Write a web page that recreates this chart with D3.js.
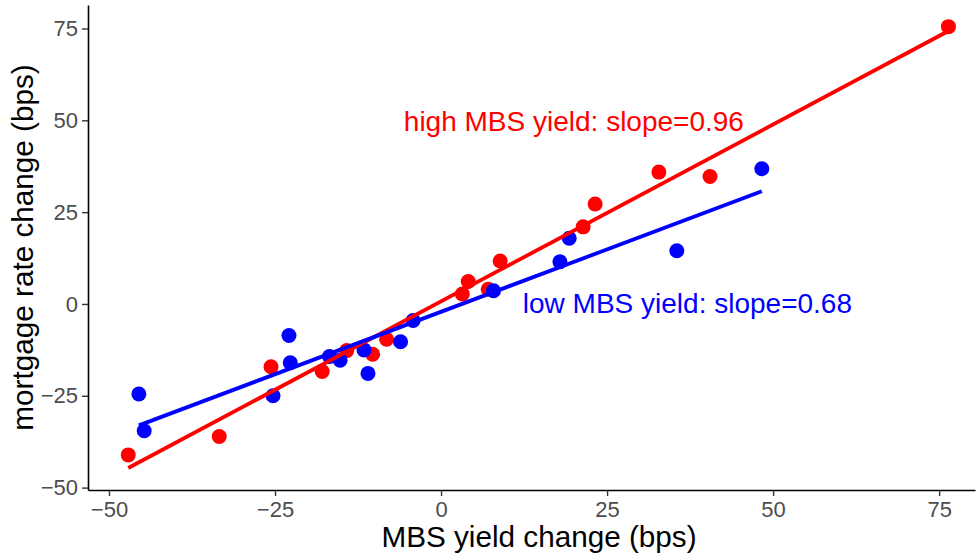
<!DOCTYPE html>
<html>
<head>
<meta charset="utf-8">
<script src="https://cdn.jsdelivr.net/npm/d3@7"></script>
<style>
  body { margin: 0; background: #fff; }
  svg { display: block; font-family: "Liberation Sans", Arial, sans-serif; }
</style>
</head>
<body>
<div id="chart"></div>
<script>
// high MBS yield group
const highX = [-47.1, -33.4, -25.6, -17.9, -14.2, -10.3, -8.2, 3.2, 4.1, 7.1, 8.9, 21.4, 23.2, 32.8, 40.5, 76.4];
const highY = [-41.1, -36.1, -17.1, -18.4, -12.7, -13.7, -9.6, 2.7, 6.1, 4.0, 11.7, 21.0, 27.2, 35.9, 34.7, 75.5];
// low MBS yield group
const lowX = [-45.5, -44.7, -25.3, -22.9, -22.7, -16.8, -15.2, -11.6, -11.0, -6.1, -4.2, 7.9, 17.9, 19.3, 35.5, 48.3];
const lowY = [-24.5, -34.5, -25.0, -8.6, -16.0, -14.3, -15.3, -12.5, -18.9, -10.3, -4.5, 3.6, 11.5, 17.9, 14.5, 36.8];

const xTicks = [-50, -25, 0, 25, 50, 75];
const yTicks = [-50, -25, 0, 25, 50, 75];

const labels = {
  x: "MBS yield change (bps)",
  y: "mortgage rate change (bps)",
  high: "high MBS yield: slope=0.96",
  low: "low MBS yield: slope=0.68"
};

const W = 980, H = 558;
const margin = { t: 5, r: 5, b: 68, l: 88 };

const svg = d3.select("#chart").append("svg")
  .attr("width", W)
  .attr("height", H)
  .attr("viewBox", [0, 0, W, H]);

const scaleX = d3.scaleLinear()
  .domain([-53.16, 80.4])
  .range([margin.l, W - margin.r]);

const scaleY = d3.scaleLinear()
  .domain([-50.65, 81.4])
  .range([H - margin.b, margin.t]);

// least squares fit, like geom_smooth(method = "lm")
const fit = (xs, ys) => {
  const mx = d3.mean(xs), my = d3.mean(ys);
  const sxy = d3.sum(xs, (x, i) => (x - mx) * (ys[i] - my));
  const sxx = d3.sum(xs, (x) => (x - mx) * (x - mx));
  const b = sxy / sxx;
  const a = my - b * mx;
  const ext = d3.extent(xs);
  return ext.map((x) => [x, a + b * x]);
};

// axes
const ax = svg.append("g")
  .attr("transform", `translate(0, ${H - margin.b})`)
  .call(d3.axisBottom(scaleX).tickValues(xTicks).tickSize(6).tickPadding(4).tickSizeOuter(0));

const ay = svg.append("g")
  .attr("transform", `translate(${margin.l}, 0)`)
  .call(d3.axisLeft(scaleY).tickValues(yTicks).tickSize(6).tickPadding(4).tickSizeOuter(0));

[ax, ay].forEach((g) => {
  g.select(".domain").attr("stroke", "#000").attr("stroke-width", 1.6);
  g.selectAll(".tick line").attr("stroke", "#333").attr("stroke-width", 1.4);
  g.selectAll(".tick text")
    .attr("fill", "#4D4D4D")
    .attr("font-size", 22)
    .attr("font-family", "Liberation Sans, Arial, sans-serif");
});
ax.selectAll(".tick text").attr("dy", "0.78em");

// points
const drawPoints = (xs, ys, color) => {
  svg.append("g")
    .selectAll("circle")
    .data(xs.map((x, i) => [x, ys[i]]))
    .enter()
    .append("circle")
    .attr("cx", (d) => scaleX(d[0]))
    .attr("cy", (d) => scaleY(d[1]))
    .attr("r", 7.5)
    .attr("fill", color);
};
drawPoints(highX, highY, "#FF0000");
drawPoints(lowX, lowY, "#0000FF");

// fitted lines
const line = d3.line()
  .x((d) => scaleX(d[0]))
  .y((d) => scaleY(d[1]));

svg.append("path")
  .attr("d", line(fit(highX, highY)))
  .attr("fill", "none")
  .attr("stroke", "#FF0000")
  .attr("stroke-width", 3.8);

svg.append("path")
  .attr("d", line(fit(lowX, lowY)))
  .attr("fill", "none")
  .attr("stroke", "#0000FF")
  .attr("stroke-width", 3.8);

// annotations
svg.append("text")
  .attr("x", scaleX(20))
  .attr("y", scaleY(47))
  .attr("text-anchor", "middle")
  .attr("font-size", 28)
  .attr("fill", "#FF0000")
  .text(labels.high);

svg.append("text")
  .attr("x", scaleX(37.1))
  .attr("y", scaleY(-2.5))
  .attr("text-anchor", "middle")
  .attr("font-size", 28)
  .attr("fill", "#0000FF")
  .text(labels.low);

// axis titles
svg.append("text")
  .attr("x", 539)
  .attr("y", 547)
  .attr("text-anchor", "middle")
  .attr("font-size", 29.7)
  .attr("fill", "#000")
  .text(labels.x);

svg.append("text")
  .attr("transform", `translate(33, ${(margin.t + H - margin.b) / 2}) rotate(-90)`)
  .attr("text-anchor", "middle")
  .attr("font-size", 29.7)
  .attr("fill", "#000")
  .text(labels.y);
</script>
</body>
</html>
